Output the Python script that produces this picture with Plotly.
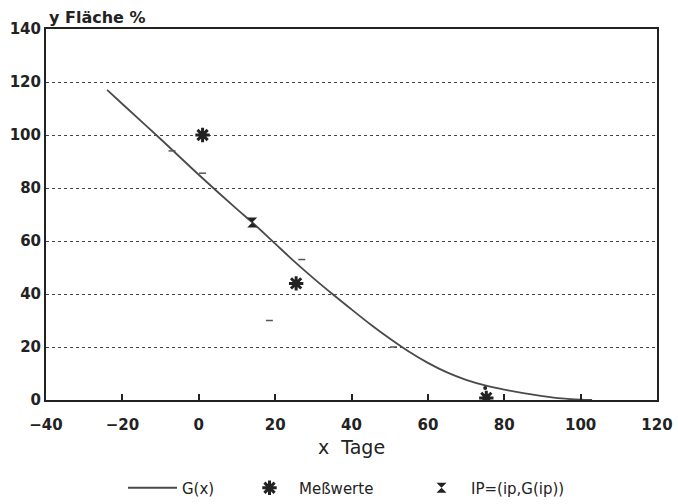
import plotly.graph_objects as go

# Fitted curve G(x)
curve_x = [-24, -20, -10, 0, 10, 14, 20, 25, 30, 35, 40, 45, 50, 55, 60, 65, 70, 75, 80, 85, 90, 95, 100, 103]
curve_y = [117, 111.7, 98.5, 85, 72, 67, 59, 52.3, 46, 40, 34.2, 28.5, 23.2, 18.3, 14, 10.4, 7.6, 5.5, 3.9, 2.6, 1.5, 0.6, 0.1, 0]

# Measured values (asterisks)
mess_x = [1, 25.5, 75.3]
mess_y = [100, 44, 0.8]

# Inflection point IP
ip_x = [14]
ip_y = [67]

# small tick marks along the plot
marks_x = [-7, 1, 27, 18.5, 51]
marks_y = [94, 85.6, 53, 30, 20]
dot_x = [75]
dot_y = [4.5]

x_ticks = [-40, -20, 0, 20, 40, 60, 80, 100, 120]
y_ticks = [0, 20, 40, 60, 80, 100, 120, 140]

ink = "#222222"
font = "DejaVu Sans"

fig = go.Figure()
fig.add_trace(go.Scatter(
    x=curve_x, y=curve_y, mode="lines", name="G(x)", legend="legend",
    line=dict(color="#4a4a4a", width=1.8, shape="spline", smoothing=1.0),
))
fig.add_trace(go.Scatter(
    x=mess_x, y=mess_y, mode="markers", name="Meßwerte", legend="legend2",
    marker=dict(symbol="asterisk", size=12, line=dict(color=ink, width=3)),
))
fig.add_trace(go.Scatter(
    x=ip_x, y=ip_y, mode="markers", name="IP=(ip,G(ip))", legend="legend3",
    marker=dict(symbol="hourglass", size=10, color=ink),
))
fig.add_trace(go.Scatter(
    x=marks_x, y=marks_y, mode="markers", showlegend=False,
    marker=dict(symbol="line-ew", size=5, line=dict(color="#555555", width=1.5)),
))
fig.add_trace(go.Scatter(
    x=dot_x, y=dot_y, mode="markers", showlegend=False,
    marker=dict(symbol="circle", size=4, color=ink),
))

leg_common = dict(
    orientation="h", xref="container", yref="container", y=0.0317,
    xanchor="left", yanchor="middle", itemwidth=49,
    font=dict(family=font, size=15, color=ink), bgcolor="rgba(0,0,0,0)",
)

fig.update_layout(
    width=678, height=504,
    margin=dict(l=46, r=21, t=29, b=104),
    paper_bgcolor="white", plot_bgcolor="white",
    font=dict(family=font, size=15, color=ink),
    showlegend=True,
    legend=dict(x=123 / 678, **leg_common),
    legend2=dict(x=240 / 678, **leg_common),
    legend3=dict(x=412 / 678, **leg_common),
    annotations=[
        dict(text="<b>y Fläche %</b>", xref="paper", yref="paper", x=0.002, y=1.0,
             xanchor="left", yanchor="bottom", showarrow=False,
             font=dict(family=font, size=16, color=ink), yshift=0),
    ],
)
fig.update_xaxes(
    range=[-40, 120], tickvals=x_ticks, ticks="inside", ticklen=6, tickwidth=1.5,
    tickcolor=ink, showline=True, linewidth=2, linecolor=ink, mirror=True,
    showgrid=False, zeroline=False, ticklabelstandoff=10, automargin=False,
    title=dict(text="x\u00a0\u00a0Tage", font=dict(family=font, size=19, color=ink), standoff=8),
    tickfont=dict(family=font, size=15, color=ink, weight="bold"),
)
fig.update_yaxes(
    range=[0, 140], tickvals=y_ticks, ticks="", automargin=False,
    showline=True, linewidth=2, linecolor=ink, mirror=True,
    showgrid=True, gridcolor="#444444", griddash="dot", gridwidth=1.2,
    zeroline=False, tickfont=dict(family=font, size=15, color=ink, weight="bold"),
)

fig.write_html("out.html")
